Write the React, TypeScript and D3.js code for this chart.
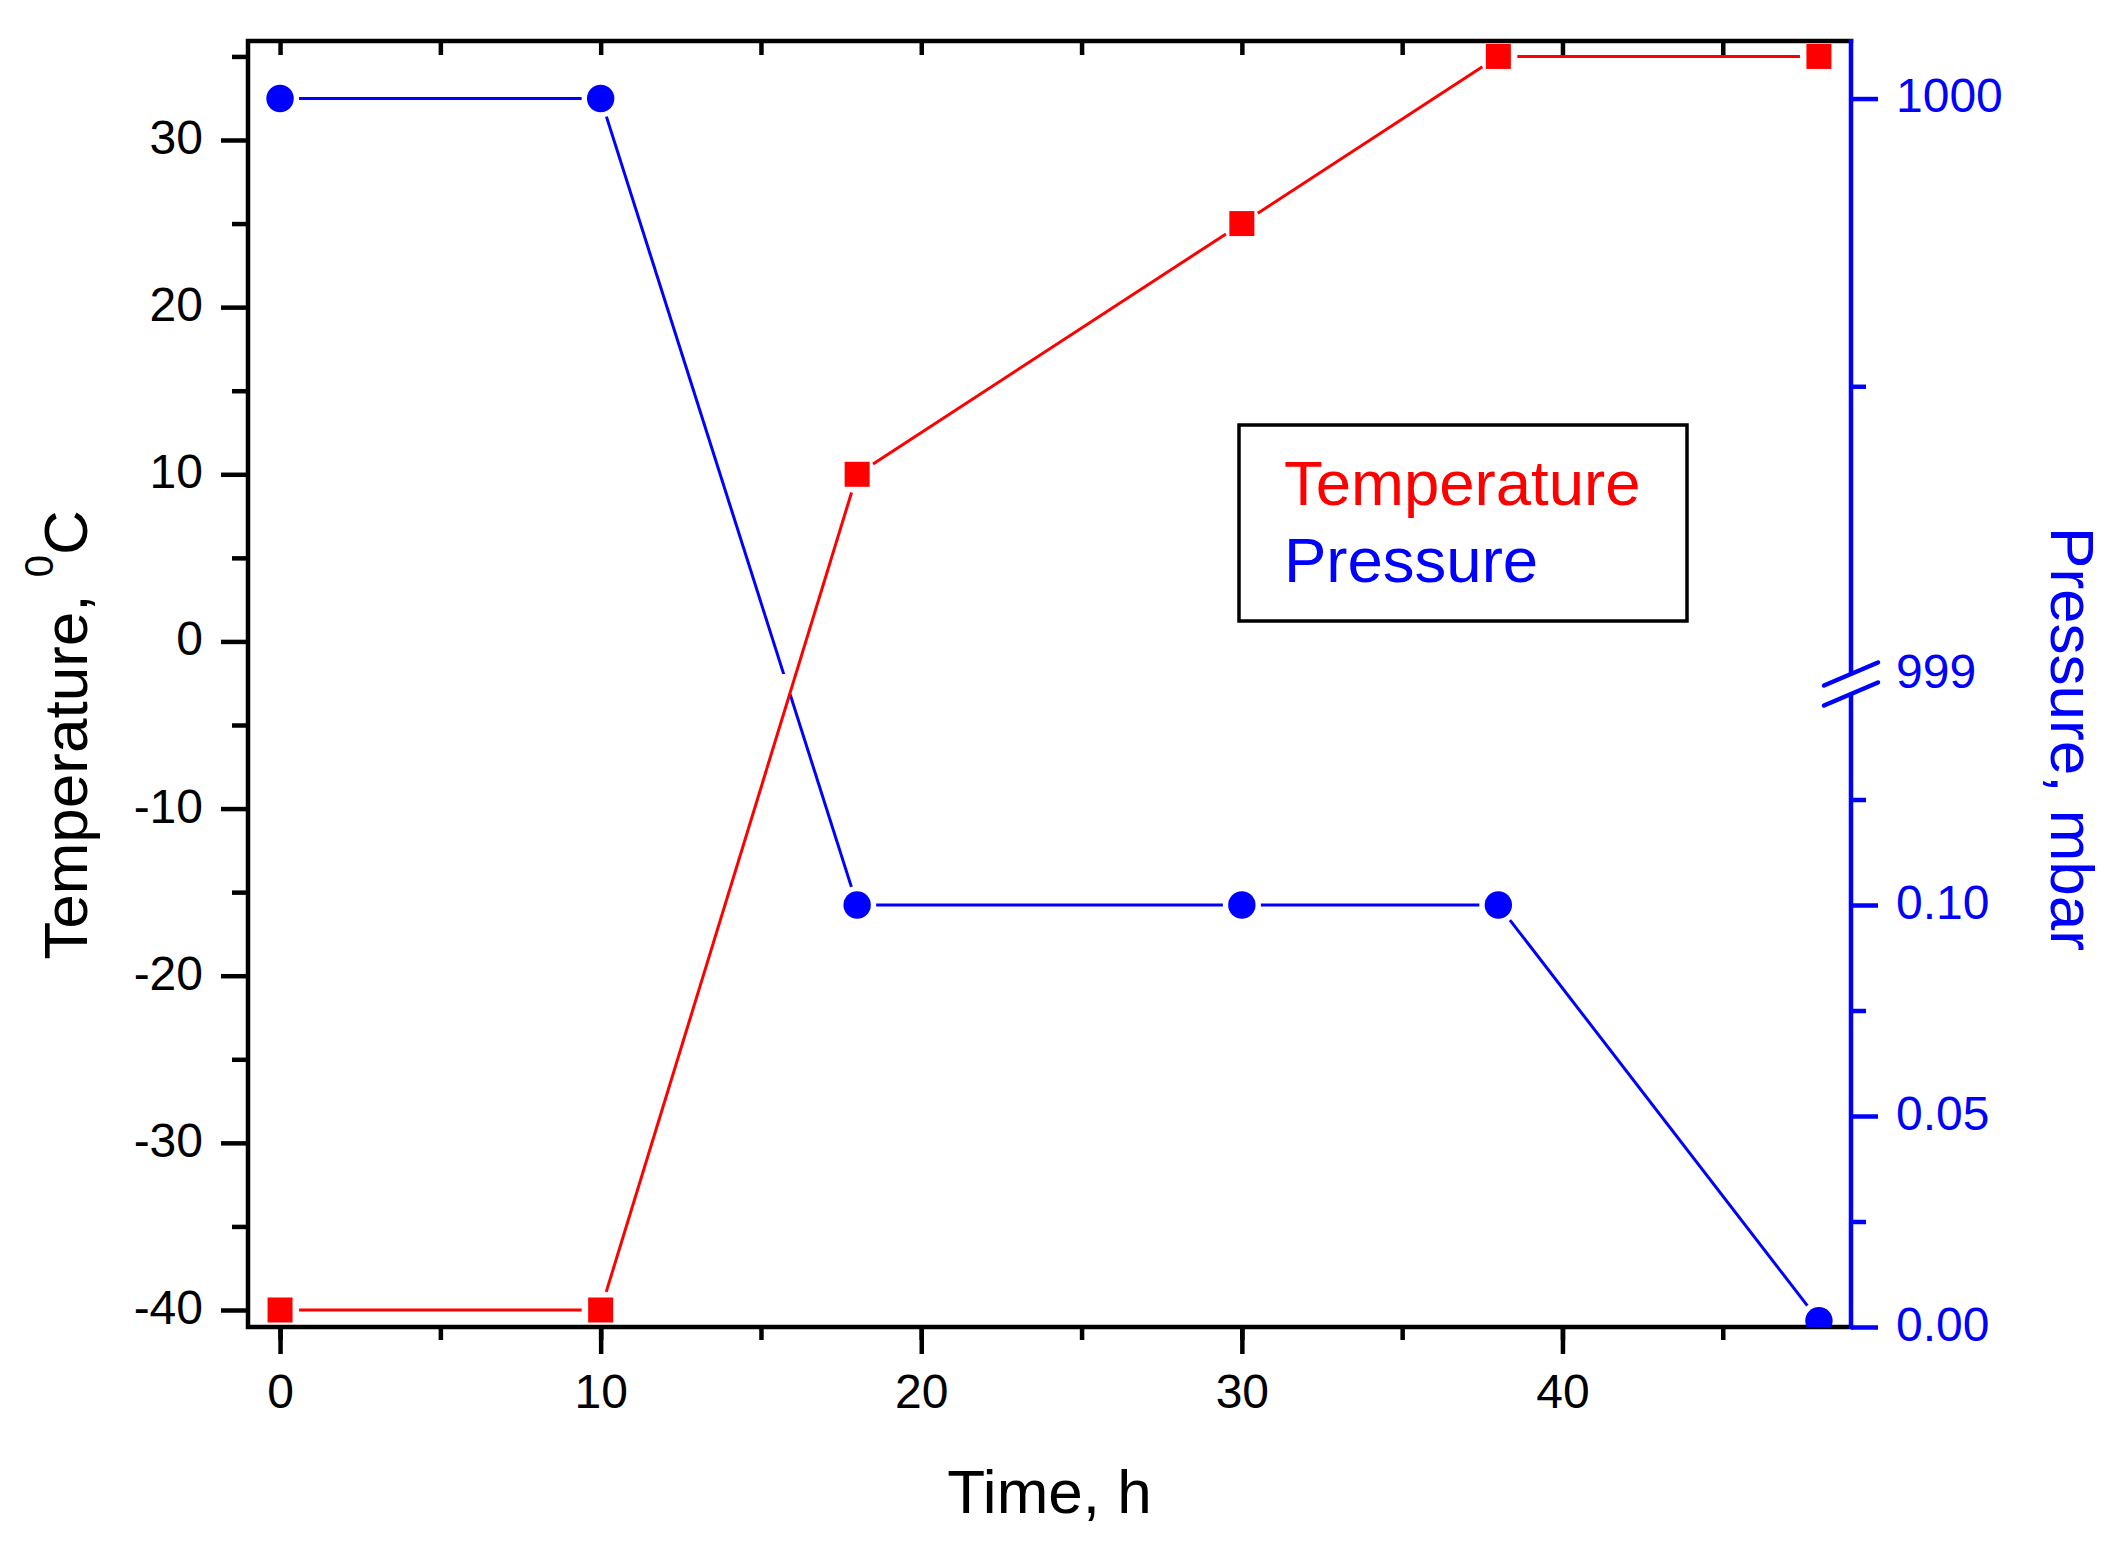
import { useEffect, useRef } from 'react';
import * as d3 from 'd3';

// data
const timeH = [0, 10, 18, 30, 38, 48];
const temperatureC = [-40, -40, 10, 25, 35, 35];
const pressureMbar = [1000, 1000, 0.1, 0.1, 0.1, 0.0015];

const xTicks = [0, 10, 20, 30, 40];
const xMinorTicks = [0, 5, 10, 15, 20, 25, 30, 35, 40, 45];
const tempTicks = [-40, -30, -20, -10, 0, 10, 20, 30];
const tempMinorTicks = [-35, -25, -15, -5, 5, 15, 25, 35];
const pressLowTicks = [0, 0.05, 0.1];
const pressLowMinor = [0.025, 0.075, 0.125];
const pressHighTicks = [999, 1000];
const pressHighMinor = [999.5];

const legendLabels = ['Temperature', 'Pressure'];

const RED = '#ff0000';
const BLUE = '#0000ff';
const FONT = '"Liberation Sans", Arial, sans-serif';

export default function App() {
  const svgRef = useRef<SVGSVGElement>(null);

  useEffect(() => {
    if (!svgRef.current) return;
    const svg = d3.select(svgRef.current);
    svg.selectAll('*').remove();

    const left = 248, right = 1851, top = 41, bottom = 1327;
    const breakTop = 674, breakBottom = 694;

    const x = d3.scaleLinear().domain([-1, 49]).range([left, right]);
    const yT = d3.scaleLinear().domain([-40, 30]).range([1310, 140]);
    const pLow = d3.scaleLinear().domain([0, 0.15]).range([bottom, breakBottom]);
    const pHigh = d3.scaleLinear().domain([999, 1000.1]).range([breakTop, top]);
    const pY = (v: number) => (v >= 998 ? pHigh(v) : pLow(v));

    const defs = svg.append('defs');
    defs.append('clipPath').attr('id', 'plotClip')
      .append('rect')
      .attr('x', left).attr('y', top)
      .attr('width', right - left).attr('height', bottom - top);
    const bc = defs.append('clipPath').attr('id', 'breakClip');
    bc.append('rect').attr('x', left).attr('y', top)
      .attr('width', right - left).attr('height', breakTop - top);
    bc.append('rect').attr('x', left).attr('y', breakBottom)
      .attr('width', right - left).attr('height', bottom - breakBottom);

    // ---- axes
    const styleAxis = (g: d3.Selection<SVGGElement, unknown, null, undefined>, color: string) => {
      g.attr('font-size', 48).attr('font-family', FONT).attr('color', color);
      g.select('.domain').remove();
      g.selectAll('line').attr('stroke-width', 4.5);
    };
    const plain = (d: d3.NumberValue) => String(d); // hyphen minus, like the original

    const bx = svg.append('g').attr('transform', `translate(0,${bottom})`)
      .call(d3.axisBottom(x).tickValues(xMinorTicks).tickSize(13).tickFormat(() => ''));
    styleAxis(bx, '#000');
    const bxM = svg.append('g').attr('transform', `translate(0,${bottom})`)
      .call(d3.axisBottom(x).tickValues(xTicks).tickSize(27).tickPadding(20).tickFormat(plain));
    styleAxis(bxM, '#000');

    const tx = svg.append('g').attr('transform', `translate(0,${top})`)
      .call(d3.axisTop(x).tickValues(xMinorTicks).tickSize(-14).tickFormat(() => ''));
    styleAxis(tx, '#000');

    const ly = svg.append('g').attr('transform', `translate(${left},0)`)
      .call(d3.axisLeft(yT).tickValues(tempMinorTicks).tickSize(16).tickFormat(() => ''));
    styleAxis(ly, '#000');
    const lyM = svg.append('g').attr('transform', `translate(${left},0)`)
      .call(d3.axisLeft(yT).tickValues(tempTicks).tickSize(27).tickPadding(18).tickFormat(plain));
    styleAxis(lyM, '#000');
    lyM.selectAll('text').attr('dy', '0.28em');

    const rLowMin = svg.append('g').attr('transform', `translate(${right},0)`)
      .call(d3.axisRight(pLow).tickValues(pressLowMinor).tickSize(15).tickFormat(() => ''));
    styleAxis(rLowMin, BLUE);
    const rLow = svg.append('g').attr('transform', `translate(${right},0)`)
      .call(d3.axisRight(pLow).tickValues(pressLowTicks).tickSize(27).tickPadding(18).tickFormat(d3.format('.2f')));
    styleAxis(rLow, BLUE);
    rLow.selectAll('text').attr('dy', '0.28em');

    const rHighMin = svg.append('g').attr('transform', `translate(${right},0)`)
      .call(d3.axisRight(pHigh).tickValues(pressHighMinor).tickSize(15).tickFormat(() => ''));
    styleAxis(rHighMin, BLUE);
    const rHigh = svg.append('g').attr('transform', `translate(${right},0)`)
      .call(d3.axisRight(pHigh).tickValues(pressHighTicks).tickSize(27).tickPadding(18).tickFormat(d3.format('d')));
    styleAxis(rHigh, BLUE);
    rHigh.selectAll('text').attr('dy', '0.28em');
    // the 999 tick sits inside the axis break: keep its label only
    rHigh.selectAll<SVGGElement, number>('.tick').filter((d) => d === 999).select('line').remove();

    // frame
    svg.append('path')
      .attr('d', `M${right},${top}H${left}V${bottom}H${right}`)
      .attr('fill', 'none').attr('stroke', '#000').attr('stroke-width', 4.5)
      .attr('stroke-linecap', 'square');
    svg.append('line')
      .attr('x1', right).attr('x2', right).attr('y1', top - 2).attr('y2', breakTop)
      .attr('stroke', BLUE).attr('stroke-width', 4.5);
    svg.append('line')
      .attr('x1', right).attr('x2', right).attr('y1', breakBottom).attr('y2', bottom + 2)
      .attr('stroke', BLUE).attr('stroke-width', 4.5);

    // axis break marks
    [breakTop, breakBottom].forEach((by) => {
      svg.append('line')
        .attr('x1', right - 27).attr('y1', by + 11.5)
        .attr('x2', right + 27).attr('y2', by - 11.5)
        .attr('stroke', BLUE).attr('stroke-width', 4.5).attr('stroke-linecap', 'round');
    });

    // ---- series
    const gap = 19;
    const drawSeries = (pts: [number, number][], color: string, clip: string) => {
      const g = svg.append('g').attr('clip-path', `url(#${clip})`);
      for (let i = 0; i < pts.length - 1; i++) {
        const [x1, y1] = pts[i];
        const [x2, y2] = pts[i + 1];
        const len = Math.hypot(x2 - x1, y2 - y1);
        const ux = (x2 - x1) / len, uy = (y2 - y1) / len;
        g.append('line')
          .attr('x1', x1 + ux * gap).attr('y1', y1 + uy * gap)
          .attr('x2', x2 - ux * gap).attr('y2', y2 - uy * gap)
          .attr('stroke', color).attr('stroke-width', 3);
      }
    };

    const pressPts: [number, number][] = timeH.map((t, i) => [x(t), pY(pressureMbar[i])]);
    const tempPts: [number, number][] = timeH.map((t, i) => [x(t), yT(temperatureC[i])]);

    drawSeries(pressPts, BLUE, 'breakClip');
    drawSeries(tempPts, RED, 'plotClip');

    svg.append('g').attr('clip-path', 'url(#plotClip)')
      .selectAll('circle')
      .data(pressPts)
      .join('circle')
      .attr('cx', (d) => d[0]).attr('cy', (d) => d[1])
      .attr('r', 13.7).attr('fill', BLUE);

    svg.append('g').attr('clip-path', 'url(#plotClip)')
      .selectAll('rect')
      .data(tempPts)
      .join('rect')
      .attr('x', (d) => d[0] - 12.5).attr('y', (d) => d[1] - 12.5)
      .attr('width', 25).attr('height', 25).attr('fill', RED);

    // ---- titles
    svg.append('text')
      .attr('x', (left + right) / 2).attr('y', 1513)
      .attr('text-anchor', 'middle')
      .attr('font-size', 62).attr('font-family', FONT).attr('fill', '#000')
      .text('Time, h');

    const yt = svg.append('text')
      .attr('transform', `translate(87,735) rotate(-90)`)
      .attr('text-anchor', 'middle')
      .attr('font-size', 62).attr('font-family', FONT).attr('fill', '#000');
    yt.append('tspan').text('Temperature, ');
    yt.append('tspan').attr('font-size', 40).attr('dy', -34).text('0');
    yt.append('tspan').attr('dy', 34).text('C');

    svg.append('text')
      .attr('transform', `translate(2051,739) rotate(90)`)
      .attr('text-anchor', 'middle')
      .attr('font-size', 62).attr('font-family', FONT).attr('fill', BLUE)
      .text('Pressure, mbar');

    // ---- legend
    svg.append('rect')
      .attr('x', 1239).attr('y', 425).attr('width', 448).attr('height', 196)
      .attr('fill', '#fff').attr('stroke', '#000').attr('stroke-width', 3.5);
    const legendColors = [RED, BLUE];
    svg.append('g')
      .selectAll('text')
      .data(legendLabels)
      .join('text')
      .attr('x', 1284)
      .attr('y', (_, i) => 505 + i * 77)
      .attr('font-size', 63.5).attr('font-family', FONT)
      .attr('fill', (_, i) => legendColors[i])
      .text((d) => d);
  }, []);

  return (
    <svg
      ref={svgRef}
      width={2121}
      height={1544}
      style={{ position: 'absolute', left: 0, top: 0, background: '#fff' }}
    />
  );
}
